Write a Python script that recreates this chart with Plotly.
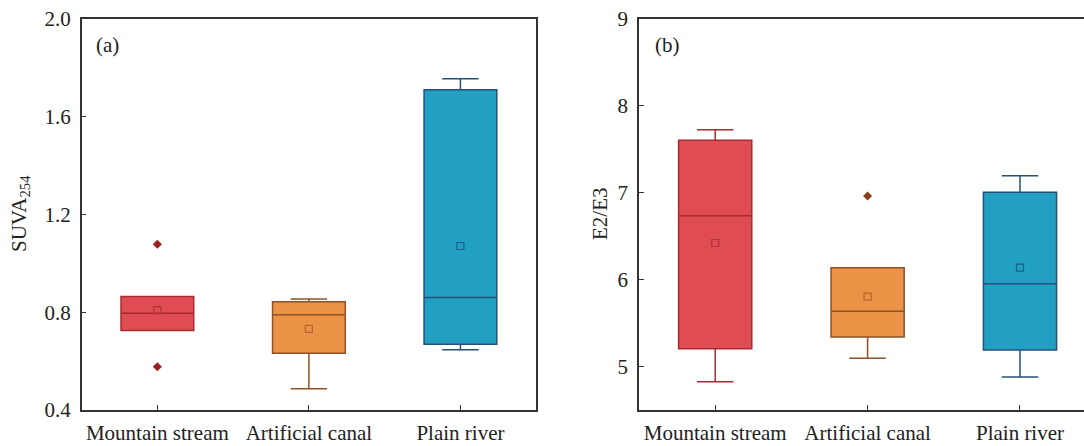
import plotly.graph_objects as go

categories = ["Mountain stream", "Artificial canal", "Plain river"]

# Panel (a) SUVA254
suva_q1 = [0.725, 0.632, 0.669]
suva_median = [0.796, 0.790, 0.860]
suva_q3 = [0.864, 0.843, 1.710]
suva_low = [0.725, 0.487, 0.647]
suva_high = [0.864, 0.854, 1.756]
suva_mean = [0.809, 0.732, 1.071]
suva_outlier_cat = ["Mountain stream", "Mountain stream"]
suva_outlier_val = [1.078, 0.577]

# Panel (b) E2/E3
e2e3_q1 = [5.206, 5.341, 5.191]
e2e3_median = [6.737, 5.636, 5.954]
e2e3_q3 = [7.604, 6.138, 7.006]
e2e3_low = [4.826, 5.095, 4.880]
e2e3_high = [7.726, 6.138, 7.197]
e2e3_mean = [6.422, 5.805, 6.138]
e2e3_outlier_cat = ["Artificial canal"]
e2e3_outlier_val = [6.963]

fills = ["#DF4D53", "#EA9246", "#22A0C4"]
lines = ["#A82B31", "#8F5127", "#25507A"]
mean_cols = ["#B33036", "#B5652E", "#1F5F88"]
outlier_cols = {"Mountain stream": "#9E1F22", "Artificial canal": "#8A3F1C", "Plain river": "#25507A"}

FONT = "Liberation Serif, Times New Roman, serif"
AX = "#333333"
FS = 21

fig = go.Figure()

def add_panel(xa, ya, q1, med, q3, lo, hi, mean, ocat, oval):
    for i, c in enumerate(categories):
        fig.add_trace(go.Box(
            x=[c], q1=[q1[i]], median=[med[i]], q3=[q3[i]],
            lowerfence=[lo[i]], upperfence=[hi[i]],
            width=0.48, whiskerwidth=0.5,
            fillcolor=fills[i], line=dict(color=lines[i], width=1.5),
            boxpoints=False, xaxis=xa, yaxis=ya, showlegend=False,
        ))
        fig.add_trace(go.Scatter(
            x=[c], y=[mean[i]], mode="markers",
            marker=dict(symbol="square-open", size=7, color=mean_cols[i], line=dict(width=1.2, color=mean_cols[i])),
            xaxis=xa, yaxis=ya, showlegend=False,
        ))
    fig.add_trace(go.Scatter(
        x=ocat, y=oval, mode="markers",
        marker=dict(symbol="diamond", size=7, color=[outlier_cols[c] for c in ocat]),
        xaxis=xa, yaxis=ya, showlegend=False,
    ))

add_panel("x", "y", suva_q1, suva_median, suva_q3, suva_low, suva_high, suva_mean, suva_outlier_cat, suva_outlier_val)
add_panel("x2", "y2", e2e3_q1, e2e3_median, e2e3_q3, e2e3_low, e2e3_high, e2e3_mean, e2e3_outlier_cat, e2e3_outlier_val)

W, H = 1084, 446
T, B = 19, 36
common_x = dict(type="category", categoryorder="array", categoryarray=categories,
                showline=True, linecolor=AX, linewidth=1.5, mirror=True,
                ticks="inside", ticklen=5, tickcolor=AX, tickwidth=1.2,
                showgrid=False, zeroline=False, ticklabelstandoff=3,
                tickfont=dict(family=FONT, size=FS, color="#222"))
common_y = dict(showline=True, linecolor=AX, linewidth=1.5,
                ticks="inside", ticklen=5, tickcolor=AX, tickwidth=1.2,
                showgrid=False, zeroline=False, ticklabelstandoff=5,
                tickfont=dict(family=FONT, size=FS, color="#222"))

fig.update_layout(
    width=W, height=H,
    margin=dict(l=0, r=0, t=T, b=B),
    paper_bgcolor="white", plot_bgcolor="white",
    font=dict(family=FONT, size=FS, color="#222"),
    xaxis=dict(domain=[81.6 / W, 536.2 / W], range=[-0.5, 2.5], anchor="y", **common_x),
    yaxis=dict(domain=[0, 1], range=[0.4, 2.0], tickvals=[0.4, 0.8, 1.2, 1.6, 2.0],
               ticktext=["0.4", "0.8", "1.2", "1.6", "2.0"], anchor="x", mirror=True, **common_y),
    xaxis2=dict(domain=[639 / W, 1.0], range=[-0.5, 2.42], anchor="y2", **common_x),
    yaxis2=dict(domain=[0, 1], range=[4.5, 9], tickvals=[5, 6, 7, 8, 9], anchor="x2", mirror=False, **common_y),
)

plot_h = H - T - B
def ypaper(py):
    return (H - B - py) / plot_h

txt_font = dict(family=FONT, size=FS, color="#222")
fig.add_annotation(text="(a)", x=94 / W, y=ypaper(45), xref="paper", yref="paper",
                   xanchor="left", yanchor="middle", showarrow=False, font=txt_font)
fig.add_annotation(text="(b)", x=653 / W, y=ypaper(45), xref="paper", yref="paper",
                   xanchor="left", yanchor="middle", showarrow=False, font=txt_font)
fig.add_annotation(text="SUVA<sub>254</sub>", x=20 / W, y=ypaper(214), xref="paper", yref="paper",
                   xanchor="center", yanchor="middle", textangle=-90, showarrow=False, font=txt_font)
fig.add_annotation(text="E2/E3", x=600 / W, y=ypaper(214), xref="paper", yref="paper",
                   xanchor="center", yanchor="middle", textangle=-90, showarrow=False, font=txt_font)

fig.write_html("out.html", config={"displayModeBar": False},
               post_script="document.body.style.margin='0';document.body.style.overflow='hidden';")
